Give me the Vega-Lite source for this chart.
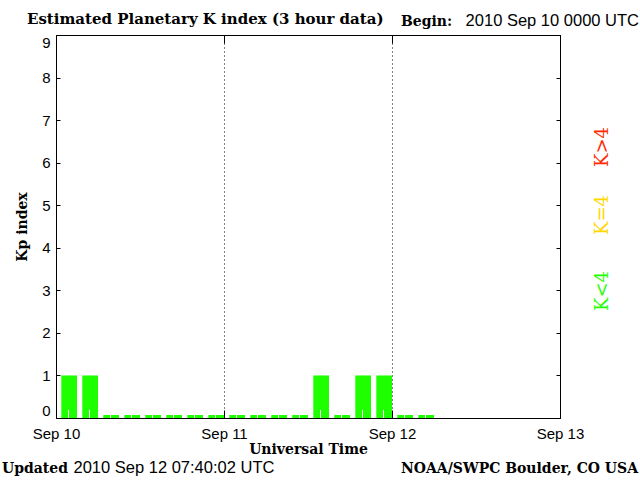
{
  "$schema": "https://vega.github.io/schema/vega-lite/v6.json",
  "width": 504,
  "height": 383,
  "autosize": "none",
  "padding": {"left": 56, "top": 35, "right": 80, "bottom": 62},
  "background": "white",
  "config": {
    "view": {"stroke": "black", "strokeWidth": 1},
    "axis": {"domain": false, "labelColor": "black", "tickColor": "black", "titleColor": "black", "labelFont": "Liberation Sans", "labelFontSize": 15, "titleFont": "DejaVu Serif", "titleFontWeight": "bold", "titleFontSize": 14}
  },
  "data": {
    "values": [
      {"start": "2010-09-10T00:00:00Z", "end": "2010-09-10T03:00:00Z", "kp": 1},
      {"start": "2010-09-10T03:00:00Z", "end": "2010-09-10T06:00:00Z", "kp": 1},
      {"start": "2010-09-10T06:00:00Z", "end": "2010-09-10T09:00:00Z", "kp": 0.07},
      {"start": "2010-09-10T09:00:00Z", "end": "2010-09-10T12:00:00Z", "kp": 0.07},
      {"start": "2010-09-10T12:00:00Z", "end": "2010-09-10T15:00:00Z", "kp": 0.07},
      {"start": "2010-09-10T15:00:00Z", "end": "2010-09-10T18:00:00Z", "kp": 0.07},
      {"start": "2010-09-10T18:00:00Z", "end": "2010-09-10T21:00:00Z", "kp": 0.07},
      {"start": "2010-09-10T21:00:00Z", "end": "2010-09-11T00:00:00Z", "kp": 0.07},
      {"start": "2010-09-11T00:00:00Z", "end": "2010-09-11T03:00:00Z", "kp": 0.07},
      {"start": "2010-09-11T03:00:00Z", "end": "2010-09-11T06:00:00Z", "kp": 0.07},
      {"start": "2010-09-11T06:00:00Z", "end": "2010-09-11T09:00:00Z", "kp": 0.07},
      {"start": "2010-09-11T09:00:00Z", "end": "2010-09-11T12:00:00Z", "kp": 0.07},
      {"start": "2010-09-11T12:00:00Z", "end": "2010-09-11T15:00:00Z", "kp": 1},
      {"start": "2010-09-11T15:00:00Z", "end": "2010-09-11T18:00:00Z", "kp": 0.07},
      {"start": "2010-09-11T18:00:00Z", "end": "2010-09-11T21:00:00Z", "kp": 1},
      {"start": "2010-09-11T21:00:00Z", "end": "2010-09-12T00:00:00Z", "kp": 1},
      {"start": "2010-09-12T00:00:00Z", "end": "2010-09-12T03:00:00Z", "kp": 0.07},
      {"start": "2010-09-12T03:00:00Z", "end": "2010-09-12T06:00:00Z", "kp": 0.07}
    ]
  },
  "resolve": {"axis": {"x": "independent", "y": "independent"}},
  "layer": [
    {
      "mark": {"type": "bar", "color": "#1eff00", "xOffset": 5.3, "x2Offset": 0},
      "encoding": {
        "x": {"field": "start", "type": "temporal",
          "scale": {"type": "utc", "domain": [{"year": 2010, "month": "sep", "date": 10, "utc": true}, {"year": 2010, "month": "sep", "date": 13, "utc": true}]},
          "axis": {"orient": "bottom", "title": "Universal Time", "format": "%b %d", "tickCount": {"interval": "day", "step": 1}, "tickSize": -8, "labelPadding": 16, "titlePadding": 1, "grid": true, "gridDash": [1, 3], "gridColor": "black", "gridOpacity": 1, "labelFlush": false, "labelOverlap": false}},
        "x2": {"field": "end"},
        "y": {"field": "kp", "type": "quantitative",
          "scale": {"domain": [0, 9], "nice": false, "zero": true},
          "axis": {"orient": "left", "title": "Kp index", "values": [0, 1, 2, 3, 4, 5, 6, 7, 8, 9], "tickSize": -4, "labelPadding": 10, "labelFlush": true, "titlePadding": 12, "grid": false}},
        "y2": {"datum": 0}
      }
    },
    {
      "mark": {"type": "rule", "color": "white", "strokeWidth": 1, "xOffset": 12.5},
      "encoding": {
        "x": {"field": "start", "type": "temporal", "axis": {"orient": "top", "title": null, "labels": false, "tickCount": {"interval": "day", "step": 1}, "tickSize": -8, "grid": false}},
        "y": {"datum": 0, "type": "quantitative", "axis": {"orient": "right", "title": null, "labels": false, "values": [0, 1, 2, 3, 4, 5, 6, 7, 8, 9], "tickSize": -4, "grid": false}},
        "y2": {"datum": 0.19}
      }
    },
    {
      "data": {"values": [{}]},
      "mark": {"type": "text", "text": "Estimated Planetary K index (3 hour data)", "font": "DejaVu Serif", "fontWeight": "bold", "fontSize": 15, "align": "left", "baseline": "alphabetic", "color": "black"},
      "encoding": {
        "x": {"datum": {"year": 2010, "month": "sep", "date": 9, "hours": 19, "minutes": 51, "utc": true}, "type": "temporal", "axis": null},
        "y": {"datum": 9.258, "type": "quantitative", "axis": null}
      }
    },
    {
      "data": {"values": [{}]},
      "mark": {"type": "text", "text": "Begin:", "font": "DejaVu Serif", "fontWeight": "bold", "fontSize": 14, "align": "left", "baseline": "alphabetic", "color": "black"},
      "encoding": {
        "x": {"datum": {"year": 2010, "month": "sep", "date": 12, "hours": 1, "minutes": 17, "utc": true}, "type": "temporal", "axis": null},
        "y": {"datum": 9.21, "type": "quantitative", "axis": null}
      }
    },
    {
      "data": {"values": [{}]},
      "mark": {"type": "text", "text": "2010 Sep 10 0000 UTC", "font": "Liberation Sans", "fontSize": 16.5, "align": "right", "baseline": "alphabetic", "color": "black"},
      "encoding": {
        "x": {"datum": {"year": 2010, "month": "sep", "date": 13, "hours": 11, "minutes": 17, "utc": true}, "type": "temporal", "axis": null},
        "y": {"datum": 9.21, "type": "quantitative", "axis": null}
      }
    },
    {
      "data": {"values": [{}]},
      "mark": {"type": "text", "text": "Updated", "font": "DejaVu Serif", "fontWeight": "bold", "fontSize": 14, "align": "left", "baseline": "alphabetic", "color": "black"},
      "encoding": {
        "x": {"datum": {"year": 2010, "month": "sep", "date": 9, "hours": 16, "minutes": 17, "utc": true}, "type": "temporal", "axis": null},
        "y": {"datum": -1.304, "type": "quantitative", "axis": null}
      }
    },
    {
      "data": {"values": [{}]},
      "mark": {"type": "text", "text": "2010 Sep 12 07:40:02 UTC", "font": "Liberation Sans", "fontSize": 16.5, "align": "left", "baseline": "alphabetic", "color": "black"},
      "encoding": {
        "x": {"datum": {"year": 2010, "month": "sep", "date": 10, "hours": 2, "minutes": 30, "utc": true}, "type": "temporal", "axis": null},
        "y": {"datum": -1.304, "type": "quantitative", "axis": null}
      }
    },
    {
      "data": {"values": [{}]},
      "mark": {"type": "text", "text": "NOAA/SWPC Boulder, CO USA", "font": "DejaVu Serif", "fontWeight": "bold", "fontSize": 14, "align": "right", "baseline": "alphabetic", "color": "black"},
      "encoding": {
        "x": {"datum": {"year": 2010, "month": "sep", "date": 13, "hours": 11, "minutes": 9, "utc": true}, "type": "temporal", "axis": null},
        "y": {"datum": -1.304, "type": "quantitative", "axis": null}
      }
    },
    {
      "data": {"values": [{}]},
      "mark": {"type": "text", "text": "K>4", "font": "DejaVu Serif", "fontSize": 18, "angle": 270, "align": "center", "baseline": "middle", "color": "#ff2a00"},
      "encoding": {
        "x": {"datum": {"year": 2010, "month": "sep", "date": 13, "hours": 6, "minutes": 9, "utc": true}, "type": "temporal", "axis": null},
        "y": {"datum": 6.368, "type": "quantitative", "axis": null}
      }
    },
    {
      "data": {"values": [{}]},
      "mark": {"type": "text", "text": "K=4", "font": "DejaVu Serif", "fontSize": 18, "angle": 270, "align": "center", "baseline": "middle", "color": "#ffd800"},
      "encoding": {
        "x": {"datum": {"year": 2010, "month": "sep", "date": 13, "hours": 6, "minutes": 9, "utc": true}, "type": "temporal", "axis": null},
        "y": {"datum": 4.77, "type": "quantitative", "axis": null}
      }
    },
    {
      "data": {"values": [{}]},
      "mark": {"type": "text", "text": "K<4", "font": "DejaVu Serif", "fontSize": 18, "angle": 270, "align": "center", "baseline": "middle", "color": "#1eff00"},
      "encoding": {
        "x": {"datum": {"year": 2010, "month": "sep", "date": 13, "hours": 6, "minutes": 9, "utc": true}, "type": "temporal", "axis": null},
        "y": {"datum": 2.984, "type": "quantitative", "axis": null}
      }
    }
  ]
}
